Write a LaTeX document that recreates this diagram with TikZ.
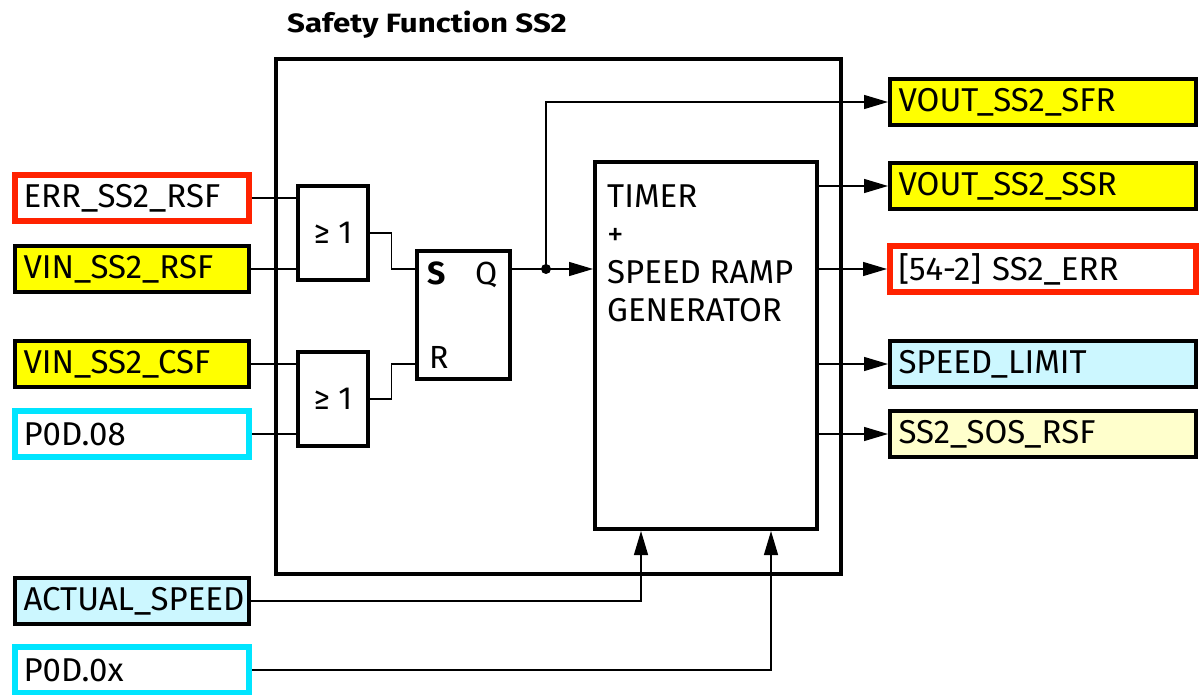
\documentclass[tikz,border=0pt]{standalone}
\usepackage{fontspec}
\setmainfont{Fira Sans}
\newfontfamily\titlefont[FakeStretch=1.18]{Fira Sans}
\usetikzlibrary{positioning,arrows.meta}
\definecolor{sigred}{RGB}{255,34,0}
\definecolor{sigcyan}{RGB}{0,229,255}
\definecolor{sigyellow}{RGB}{255,255,0}
\definecolor{lightcyan}{RGB}{204,247,255}
\definecolor{lightyellow}{RGB}{255,255,204}

\begin{document}
\begin{tikzpicture}[
    x=1pt, y=-1pt,
    font=\fontsize{33}{38}\selectfont,
    signal/.style={rectangle, minimum height=46pt, align=left, inner xsep=8.5pt, draw=black, line width=4pt},
    insig/.style={signal, text width=217pt},
    outsig/.style={signal, text width=289pt},
    errsig/.style={draw=sigred, line width=6pt},
    parsig/.style={draw=sigcyan, line width=6pt},
    gate/.style={rectangle, draw, line width=3.5pt, minimum width=70pt, minimum height=94pt, inner sep=0pt, font=\fontsize{32}{34}\selectfont},
    block/.style={rectangle, draw, line width=4pt, inner sep=0pt},
    pinlbl/.style={anchor=base west, inner sep=0pt, font=\fontsize{32}{34}\selectfont},
    wire/.style={line width=1.3pt},
    arrow/.style={wire, ->, >={Triangle[length=24pt,width=14pt]}}
]
\useasboundingbox (0,0) rectangle (1200,695);

% Safety function frame
\node[block, minimum width=565pt, minimum height=515pt] (ss2) at (558.5,316.5) {};
\node[anchor=base west, inner sep=0pt, font=\fontsize{26.5}{30}\titlefont\bfseries] (title) at (287,33) {Safety Function SS2};

% Input signals
\node[insig, errsig] (errrsf) at (132,198) {ERR\_SS2\_RSF};
\node[insig, fill=sigyellow] (vinrsf) at (132,269) {VIN\_SS2\_RSF};
\node[insig, fill=sigyellow] (vincsf) at (132,364) {VIN\_SS2\_CSF};
\node[insig, parsig] (pod08) at (132,434) {P0D.08};
\node[insig, fill=lightcyan] (actspeed) at (132,601) {ACTUAL\_SPEED};
\node[insig, parsig] (pod0x) at (132,670) {P0D.0x};

% Logic
\node[gate] (or1) at (333,233) {≥ 1};
\node[gate] (or2) at (333,399) {≥ 1};
\node[block, minimum width=93pt, minimum height=128pt] (sr) at (463.5,315) {};
\node[pinlbl, font=\fontsize{32}{34}\selectfont\bfseries] (slbl) at (427,284) {S};
\node[pinlbl] (qlbl) at (475,284) {Q};
\node[pinlbl] (rlbl) at (429,368) {R};
\node[block, minimum width=222pt, minimum height=367pt] (timer) at (706,345.5) {};
\node[anchor=north west, align=left, inner sep=0pt] (timerlbl) at (607,185) {TIMER\\+\\SPEED RAMP\\GENERATOR};

% Output signals
\node[outsig, fill=sigyellow] (voutsfr) at (1043,102) {VOUT\_SS2\_SFR};
\node[outsig, fill=sigyellow] (voutssr) at (1043,186) {VOUT\_SS2\_SSR};
\node[outsig, errsig] (sserr) at (1043,269) {[54-2] SS2\_ERR};
\node[outsig, fill=lightcyan] (speedlim) at (1043,364) {SPEED\_LIMIT};
\node[outsig, fill=lightyellow] (sosrsf) at (1043,434) {SS2\_SOS\_RSF};

% Connections
\draw[wire] (errrsf.east) -- (errrsf.east -| or1.west);
\draw[wire] (vinrsf.east) -- (vinrsf.east -| or1.west);
\draw[wire] (vincsf.east) -- (vincsf.east -| or2.west);
\draw[wire] (pod08.east) -- (pod08.east -| or2.west);
\draw[wire] (or1.east) -- ++(22,0) |- (sr.west |- vinrsf.east);
\draw[wire] (or2.east) -- ++(22,0) |- (sr.west |- vincsf.east);

\coordinate (qdot) at (546,269);
\draw[arrow] (sr.east |- qdot) -- (timer.west |- qdot);
\draw[arrow] (qdot) |- (voutsfr.west);
\fill (qdot) circle (5pt);

\foreach \o in {voutssr, sserr, speedlim, sosrsf}
    \draw[arrow] (timer.east |- \o.west) -- (\o.west);

\draw[arrow] (actspeed.east) -| ([xshift=-65pt]timer.south);
\draw[arrow] (pod0x.east) -| ([xshift=65pt]timer.south);

\end{tikzpicture}
\end{document}
